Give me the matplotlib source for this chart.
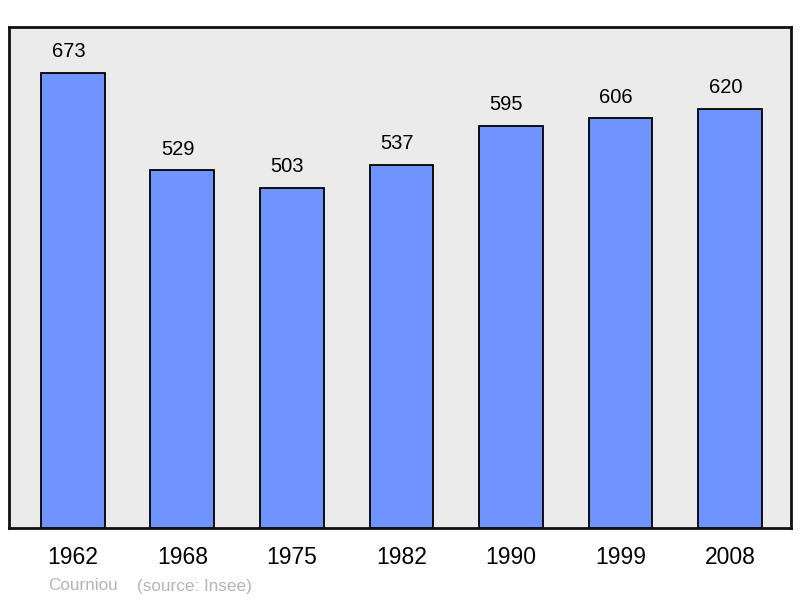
import matplotlib
matplotlib.use("Agg")
import matplotlib.pyplot as plt

years = ["1962", "1968", "1975", "1982", "1990", "1999", "2008"]
population = [673, 529, 503, 537, 595, 606, 620]

plt.rcParams['font.family'] = ['Liberation Sans', 'DejaVu Sans']

fig = plt.figure(figsize=(8, 5.98), dpi=100)
ax = fig.add_axes([9/800, 70/598, 782/800, 501/598])
ax.set_facecolor('#ebebeb')
x = list(range(len(years)))
ax.bar(x, population, width=0.584, color='#7094ff', edgecolor='black', linewidth=1.3, zorder=2)
for xi, v in zip(x, population):
    ax.text(xi - 0.042, v + 17, str(v), ha='center', va='bottom', fontsize=14.5)
ax.set_xlim(-0.584, 6.557)
ax.set_ylim(0, 741)
ax.set_yticks([])
ax.set_xticks(x)
ax.set_xticklabels(years, fontsize=16.5)
ax.tick_params(axis='x', length=0, pad=13)
for s in ax.spines.values():
    s.set_linewidth(2)
    s.set_color('#111111')
fig.text(48/800, 1 - 586/598, "Courniou", color='#b4b4b4', fontsize=12.3, va='center', ha='left')
fig.text(137/800, 1 - 586/598, "(source: Insee)", color='#b4b4b4', fontsize=12.3, va='center', ha='left')
fig.savefig("out.png", dpi=100)
